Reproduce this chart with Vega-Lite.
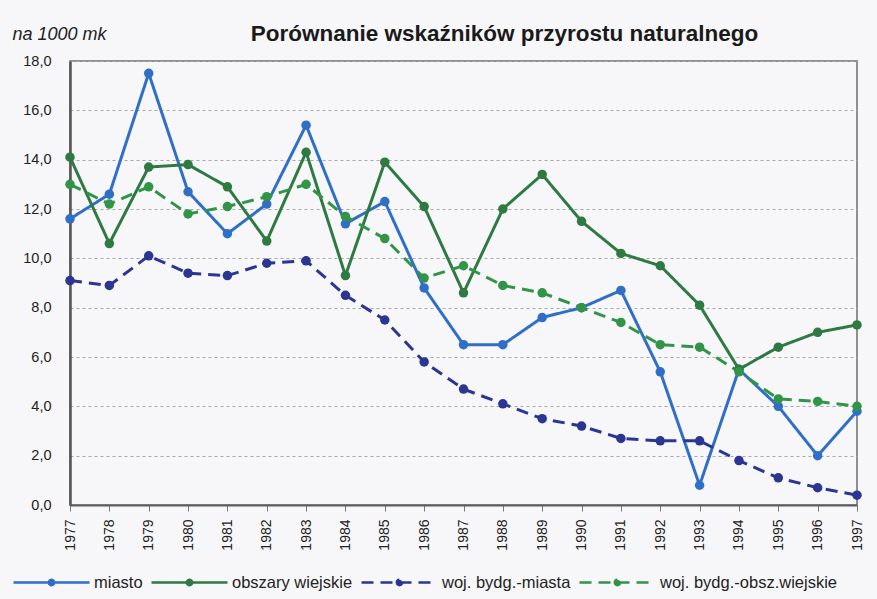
{
  "$schema": "https://vega.github.io/schema/vega-lite/v6.json",
  "autosize": {"type": "none"},
  "padding": {"left": 70, "top": 61, "right": 20, "bottom": 94},
  "width": 787,
  "height": 444,
  "background": "#f7f7f9",
  "title": {
    "text": "Porównanie wskaźników przyrostu naturalnego",
    "font": "Liberation Sans",
    "fontSize": 22.5,
    "fontWeight": "bold",
    "color": "#1a1a1a",
    "anchor": "middle",
    "dx": 41,
    "offset": -20
  },
  "config": {
    "font": "Liberation Sans",
    "view": {"stroke": "#6e6e6e", "strokeWidth": 1.5, "fill": "#f7f7f9"}
  },
  "data": {
    "values": [
      {"year": "1977", "series": "miasto", "value": 11.6},
      {"year": "1978", "series": "miasto", "value": 12.6},
      {"year": "1979", "series": "miasto", "value": 17.5},
      {"year": "1980", "series": "miasto", "value": 12.7},
      {"year": "1981", "series": "miasto", "value": 11.0},
      {"year": "1982", "series": "miasto", "value": 12.2},
      {"year": "1983", "series": "miasto", "value": 15.4},
      {"year": "1984", "series": "miasto", "value": 11.4},
      {"year": "1985", "series": "miasto", "value": 12.3},
      {"year": "1986", "series": "miasto", "value": 8.8},
      {"year": "1987", "series": "miasto", "value": 6.5},
      {"year": "1988", "series": "miasto", "value": 6.5},
      {"year": "1989", "series": "miasto", "value": 7.6},
      {"year": "1990", "series": "miasto", "value": 8.0},
      {"year": "1991", "series": "miasto", "value": 8.7},
      {"year": "1992", "series": "miasto", "value": 5.4},
      {"year": "1993", "series": "miasto", "value": 0.8},
      {"year": "1994", "series": "miasto", "value": 5.5},
      {"year": "1995", "series": "miasto", "value": 4.0},
      {"year": "1996", "series": "miasto", "value": 2.0},
      {"year": "1997", "series": "miasto", "value": 3.8},
      {"year": "1977", "series": "obszary wiejskie", "value": 14.1},
      {"year": "1978", "series": "obszary wiejskie", "value": 10.6},
      {"year": "1979", "series": "obszary wiejskie", "value": 13.7},
      {"year": "1980", "series": "obszary wiejskie", "value": 13.8},
      {"year": "1981", "series": "obszary wiejskie", "value": 12.9},
      {"year": "1982", "series": "obszary wiejskie", "value": 10.7},
      {"year": "1983", "series": "obszary wiejskie", "value": 14.3},
      {"year": "1984", "series": "obszary wiejskie", "value": 9.3},
      {"year": "1985", "series": "obszary wiejskie", "value": 13.9},
      {"year": "1986", "series": "obszary wiejskie", "value": 12.1},
      {"year": "1987", "series": "obszary wiejskie", "value": 8.6},
      {"year": "1988", "series": "obszary wiejskie", "value": 12.0},
      {"year": "1989", "series": "obszary wiejskie", "value": 13.4},
      {"year": "1990", "series": "obszary wiejskie", "value": 11.5},
      {"year": "1991", "series": "obszary wiejskie", "value": 10.2},
      {"year": "1992", "series": "obszary wiejskie", "value": 9.7},
      {"year": "1993", "series": "obszary wiejskie", "value": 8.1},
      {"year": "1994", "series": "obszary wiejskie", "value": 5.5},
      {"year": "1995", "series": "obszary wiejskie", "value": 6.4},
      {"year": "1996", "series": "obszary wiejskie", "value": 7.0},
      {"year": "1997", "series": "obszary wiejskie", "value": 7.3},
      {"year": "1977", "series": "woj. bydg.-miasta", "value": 9.1},
      {"year": "1978", "series": "woj. bydg.-miasta", "value": 8.9},
      {"year": "1979", "series": "woj. bydg.-miasta", "value": 10.1},
      {"year": "1980", "series": "woj. bydg.-miasta", "value": 9.4},
      {"year": "1981", "series": "woj. bydg.-miasta", "value": 9.3},
      {"year": "1982", "series": "woj. bydg.-miasta", "value": 9.8},
      {"year": "1983", "series": "woj. bydg.-miasta", "value": 9.9},
      {"year": "1984", "series": "woj. bydg.-miasta", "value": 8.5},
      {"year": "1985", "series": "woj. bydg.-miasta", "value": 7.5},
      {"year": "1986", "series": "woj. bydg.-miasta", "value": 5.8},
      {"year": "1987", "series": "woj. bydg.-miasta", "value": 4.7},
      {"year": "1988", "series": "woj. bydg.-miasta", "value": 4.1},
      {"year": "1989", "series": "woj. bydg.-miasta", "value": 3.5},
      {"year": "1990", "series": "woj. bydg.-miasta", "value": 3.2},
      {"year": "1991", "series": "woj. bydg.-miasta", "value": 2.7},
      {"year": "1992", "series": "woj. bydg.-miasta", "value": 2.6},
      {"year": "1993", "series": "woj. bydg.-miasta", "value": 2.6},
      {"year": "1994", "series": "woj. bydg.-miasta", "value": 1.8},
      {"year": "1995", "series": "woj. bydg.-miasta", "value": 1.1},
      {"year": "1996", "series": "woj. bydg.-miasta", "value": 0.7},
      {"year": "1997", "series": "woj. bydg.-miasta", "value": 0.4},
      {"year": "1977", "series": "woj. bydg.-obsz.wiejskie", "value": 13.0},
      {"year": "1978", "series": "woj. bydg.-obsz.wiejskie", "value": 12.2},
      {"year": "1979", "series": "woj. bydg.-obsz.wiejskie", "value": 12.9},
      {"year": "1980", "series": "woj. bydg.-obsz.wiejskie", "value": 11.8},
      {"year": "1981", "series": "woj. bydg.-obsz.wiejskie", "value": 12.1},
      {"year": "1982", "series": "woj. bydg.-obsz.wiejskie", "value": 12.5},
      {"year": "1983", "series": "woj. bydg.-obsz.wiejskie", "value": 13.0},
      {"year": "1984", "series": "woj. bydg.-obsz.wiejskie", "value": 11.7},
      {"year": "1985", "series": "woj. bydg.-obsz.wiejskie", "value": 10.8},
      {"year": "1986", "series": "woj. bydg.-obsz.wiejskie", "value": 9.2},
      {"year": "1987", "series": "woj. bydg.-obsz.wiejskie", "value": 9.7},
      {"year": "1988", "series": "woj. bydg.-obsz.wiejskie", "value": 8.9},
      {"year": "1989", "series": "woj. bydg.-obsz.wiejskie", "value": 8.6},
      {"year": "1990", "series": "woj. bydg.-obsz.wiejskie", "value": 8.0},
      {"year": "1991", "series": "woj. bydg.-obsz.wiejskie", "value": 7.4},
      {"year": "1992", "series": "woj. bydg.-obsz.wiejskie", "value": 6.5},
      {"year": "1993", "series": "woj. bydg.-obsz.wiejskie", "value": 6.4},
      {"year": "1994", "series": "woj. bydg.-obsz.wiejskie", "value": 5.4},
      {"year": "1995", "series": "woj. bydg.-obsz.wiejskie", "value": 4.3},
      {"year": "1996", "series": "woj. bydg.-obsz.wiejskie", "value": 4.2},
      {"year": "1997", "series": "woj. bydg.-obsz.wiejskie", "value": 4.0}
    ]
  },
  "encoding": {
    "x": {
      "field": "year",
      "type": "ordinal",
      "scale": {"type": "point", "padding": 0},
      "axis": {
        "title": null,
        "labelAngle": 270,
        "labelAlign": "right",
        "labelBaseline": "middle",
        "labelFontSize": 14,
        "labelColor": "#222",
        "labelPadding": 8,
        "domainColor": "#5e5e5e",
        "domainWidth": 2,
        "tickColor": "#777",
        "tickSize": 6,
        "grid": false
      }
    },
    "y": {
      "field": "value",
      "type": "quantitative",
      "scale": {"domain": [0, 18], "nice": false},
      "axis": {
        "values": [0, 2, 4, 6, 8, 10, 12, 14, 16, 18],
        "labelExpr": "replace(format(datum.value, '.1f'), '.', ',')",
        "labelFontSize": 14.5,
        "labelColor": "#222",
        "labelPadding": 19,
        "ticks": false,
        "domainColor": "#555",
        "domainWidth": 2.5,
        "grid": true,
        "gridColor": "#a8a8a8",
        "gridDash": [3, 3],
        "gridWidth": 1,
        "title": "na 1000 mk",
        "titleAngle": 0,
        "titleAlign": "left",
        "titleBaseline": "middle",
        "titleFontStyle": "italic",
        "titleFontWeight": "normal",
        "titleFontSize": 18,
        "titleColor": "#222",
        "titleX": -58,
        "titleY": -27
      }
    },
    "color": {
      "field": "series",
      "type": "nominal",
      "sort": ["miasto", "obszary wiejskie", "woj. bydg.-miasta", "woj. bydg.-obsz.wiejskie"],
      "scale": {
        "domain": ["miasto", "obszary wiejskie", "woj. bydg.-miasta", "woj. bydg.-obsz.wiejskie"],
        "range": ["#2f6fc8", "#2e7a42", "#2b3592", "#329447"]
      },
      "legend": {
        "title": null,
        "orient": "none",
        "direction": "horizontal",
        "legendX": -58,
        "legendY": 482,
        "symbolType": "M-1,0H1M0.07,0A0.07,0.07,0,1,1,-0.07,0A0.07,0.07,0,1,1,0.07,0",
        "symbolSize": 5776,
        "symbolStrokeWidth": 2.5,
        "labelFontSize": 16.5,
        "labelColor": "#222",
        "labelLimit": 400,
        "labelOffset": 3,
        "columnPadding": 3,
        "encode": {
          "symbols": {
            "update": {
              "fill": {"signal": "scale('color', datum.value)"},
              "stroke": {"signal": "scale('color', datum.value)"},
              "strokeDash": {"signal": "scale('strokeDash', datum.value)"}
            }
          }
        }
      }
    },
    "strokeDash": {
      "field": "series",
      "type": "nominal",
      "scale": {
        "domain": ["miasto", "obszary wiejskie", "woj. bydg.-miasta", "woj. bydg.-obsz.wiejskie"],
        "range": [[1, 0], [1, 0], [12, 7], [12, 7]]
      },
      "legend": null
    }
  },
  "layer": [
    {
      "mark": {"type": "line", "strokeWidth": 3},
      "encoding": {}
    },
    {
      "mark": {"type": "point", "filled": true, "size": 90, "opacity": 1, "strokeWidth": 0},
      "encoding": {"strokeDash": {"value": [1, 0]}}
    }
  ]
}
